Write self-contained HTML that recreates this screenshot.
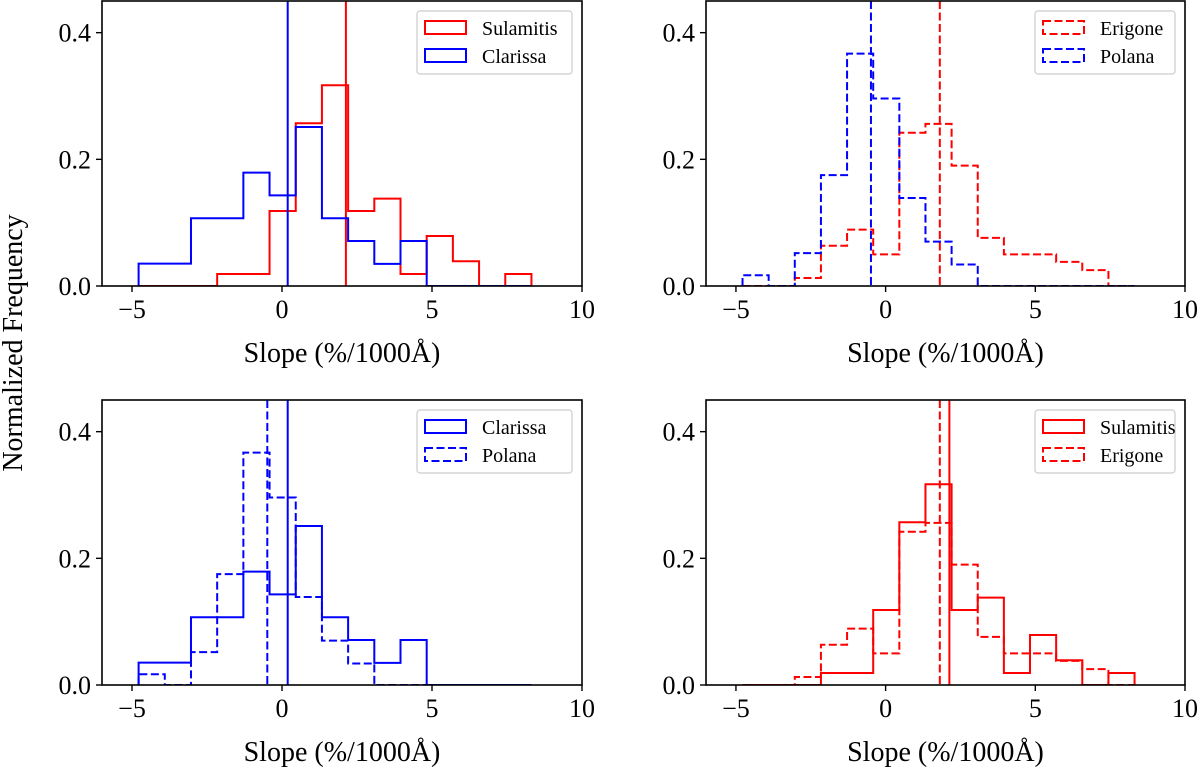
<!DOCTYPE html>
<html><head><meta charset="utf-8"><style>
html,body{margin:0;padding:0;background:#fff;}
svg text{font-family:"Liberation Serif","DejaVu Serif",serif;fill:#000;}
</style></head><body>
<svg id="fig" width="1200" height="772" viewBox="0 0 1200 772" xmlns="http://www.w3.org/2000/svg">
<text x="0" y="0" font-size="28" text-anchor="middle" transform="translate(22,343) rotate(-90)">Normalized Frequency</text>
</svg>
<script>
// shared bin layout
const binStart = -4.78;
const binWidth = 0.873;
// series values (normalized frequency per bin)
const sulamitis = [0,0,0,0.019,0.019,0.1185,0.257,0.317,0.1185,0.138,0.019,0.079,0.039,0,0.019];
const clarissa = [0.0354,0.0354,0.107,0.107,0.179,0.143,0.251,0.107,0.071,0.035,0.071,0,0,0,0];
const erigone = [0,0,0.0127,0.0635,0.089,0.050,0.242,0.256,0.19,0.076,0.050,0.050,0.038,0.025,0];
const polana = [0.017,0,0.052,0.175,0.367,0.296,0.139,0.070,0.034,0,0,0,0,0,0];
// median lines
const medians = {sulamitis:2.13, clarissa:0.19, erigone:1.81, polana:-0.49};
const xTicks = [-5,0,5,10];
const yTicks = [0.0,0.2,0.4];
const yTickLabels = ["0.0","0.2","0.4"];
const xMin=-6, xMax=10, yMin=0, yMax=0.45;

const NS="http://www.w3.org/2000/svg";
const svg=document.getElementById('fig');
function mk(tag,attrs,parent){const e=document.createElementNS(NS,tag);for(const k in attrs)e.setAttribute(k,attrs[k]);(parent||svg).appendChild(e);return e;}

const panels=[
 {name:'top-left',x0:102,x1:582,y0:1,y1:286,series:[['sulamitis',sulamitis,'red',false,'Sulamitis'],['clarissa',clarissa,'blue',false,'Clarissa']]},
 {name:'top-right',x0:706,x1:1185,y0:1,y1:286,series:[['erigone',erigone,'red',true,'Erigone'],['polana',polana,'blue',true,'Polana']]},
 {name:'bottom-left',x0:102,x1:582,y0:400,y1:685,series:[['clarissa',clarissa,'blue',false,'Clarissa'],['polana',polana,'blue',true,'Polana']]},
 {name:'bottom-right',x0:706,x1:1185,y0:400,y1:685,series:[['sulamitis',sulamitis,'red',false,'Sulamitis'],['erigone',erigone,'red',true,'Erigone']]}
];
const DASH='8,3.5';
panels.forEach(p=>{
  const g=mk('g',{});
  
  
  const X=v=>p.x0+(v-xMin)/(xMax-xMin)*(p.x1-p.x0);
  const Y=v=>p.y1-(v-yMin)/(yMax-yMin)*(p.y1-p.y0);
  const cid='clip-'+p.name;
  const cp=mk('clipPath',{id:cid},g);mk('rect',{x:p.x0,y:p.y0,width:p.x1-p.x0,height:p.y1-p.y0},cp);
  p.series.forEach(([key,vals,col,dashed,label])=>{
    let d='M'+X(binStart)+','+Y(0);
    vals.forEach((v,i)=>{const a=X(binStart+i*binWidth),b=X(binStart+(i+1)*binWidth);d+=' L'+a+','+Y(v)+' L'+b+','+Y(v);});
    d+=' L'+X(binStart+vals.length*binWidth)+','+Y(0);
    const path=mk('path',{d:d,fill:'none',stroke:col,'stroke-width':2,'clip-path':'url(#'+cid+')'},g);
    
    
    if(dashed)path.setAttribute('stroke-dasharray',DASH);
    const ln=mk('line',{x1:X(medians[key]),x2:X(medians[key]),y1:p.y0,y2:p.y1,stroke:col,'stroke-width':2},g);
    
    
    if(dashed)ln.setAttribute('stroke-dasharray',DASH);
  });
  const fr=mk('rect',{x:p.x0,y:p.y0,width:p.x1-p.x0,height:p.y1-p.y0,fill:'none',stroke:'#000','stroke-width':1.6},g);
  
  
  xTicks.forEach(t=>{
    const x=X(t);
    mk('line',{x1:x,x2:x,y1:p.y1,y2:p.y1+6,stroke:'#000','stroke-width':1.4},g);
    const tx=mk('text',{x:x,y:p.y1+32,'font-size':26,'text-anchor':'middle'},g);
    tx.textContent=t<0?'\u2212'+Math.abs(t):String(t);
    
    
  });
  yTicks.forEach((t,i)=>{
    const y=Y(t);
    mk('line',{x1:p.x0-6,x2:p.x0,y1:y,y2:y,stroke:'#000','stroke-width':1.4},g);
    const ty=mk('text',{x:p.x0-11,y:y+9,'font-size':26,'text-anchor':'end'},g);
    ty.textContent=yTickLabels[i];
    
    
  });
  const xt=mk('text',{x:(p.x0+p.x1)/2,y:p.y1+76,'font-size':28,'text-anchor':'middle'},g);
  xt.textContent='Slope (%/1000\u00C5)';
  
  
  // legend
  const lw=p.name.includes('right')?140:155;
  const lx=p.x1-lw-10, ly=p.y0+10;
  const lg=mk('g',{},g);
  
  
  mk('rect',{x:lx,y:ly,width:lw,height:63,rx:3,fill:'#fff',stroke:'#ccc','stroke-width':1.2},lg);
  p.series.forEach(([key,vals,col,dashed,label],i)=>{
    const yy=ly+10+i*28;
    const r=mk('rect',{x:lx+8,y:yy,width:41,height:13,fill:'none',stroke:col,'stroke-width':2},lg);
    if(dashed)r.setAttribute('stroke-dasharray',DASH);
    
    
    const t=mk('text',{x:lx+65,y:yy+14,'font-size':20},lg);
    t.textContent=label;
    
    
  });
});
</script>
</body></html>
